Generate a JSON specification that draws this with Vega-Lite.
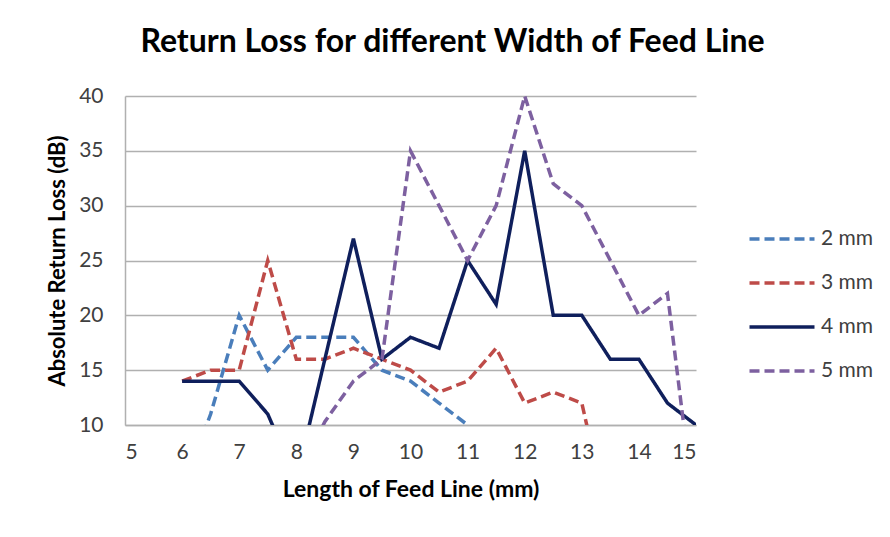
{
  "$schema": "https://vega.github.io/schema/vega-lite/v6.json",
  "width": 571,
  "height": 329,
  "autosize": {"type": "none"},
  "padding": {"left": 125, "top": 96, "right": 194, "bottom": 112},
  "background": "white",
  "title": {
    "text": "Return Loss for different Width of Feed Line",
    "font": "Lato",
    "fontSize": 32,
    "fontWeight": "bold",
    "color": "#000000",
    "anchor": "middle",
    "dx": 42,
    "baseline": "alphabetic",
    "offset": 1
  },
  "config": {
    "view": {"stroke": null},
    "font": "Lato"
  },
  "data": {
    "values": [
      {"len": 6, "rl": 4, "width": "2 mm"},
      {"len": 6.5, "rl": 11, "width": "2 mm"},
      {"len": 7, "rl": 20, "width": "2 mm"},
      {"len": 7.5, "rl": 15, "width": "2 mm"},
      {"len": 8, "rl": 18, "width": "2 mm"},
      {"len": 8.5, "rl": 18, "width": "2 mm"},
      {"len": 9, "rl": 18, "width": "2 mm"},
      {"len": 9.5, "rl": 15, "width": "2 mm"},
      {"len": 10, "rl": 14, "width": "2 mm"},
      {"len": 10.5, "rl": 12, "width": "2 mm"},
      {"len": 11, "rl": 10, "width": "2 mm"},
      {"len": 6, "rl": 14, "width": "3 mm"},
      {"len": 6.5, "rl": 15, "width": "3 mm"},
      {"len": 7, "rl": 15, "width": "3 mm"},
      {"len": 7.5, "rl": 25, "width": "3 mm"},
      {"len": 8, "rl": 16, "width": "3 mm"},
      {"len": 8.5, "rl": 16, "width": "3 mm"},
      {"len": 9, "rl": 17, "width": "3 mm"},
      {"len": 9.5, "rl": 16, "width": "3 mm"},
      {"len": 10, "rl": 15, "width": "3 mm"},
      {"len": 10.5, "rl": 13, "width": "3 mm"},
      {"len": 11, "rl": 14, "width": "3 mm"},
      {"len": 11.5, "rl": 17, "width": "3 mm"},
      {"len": 12, "rl": 12, "width": "3 mm"},
      {"len": 12.5, "rl": 13, "width": "3 mm"},
      {"len": 13, "rl": 12, "width": "3 mm"},
      {"len": 13.5, "rl": 0.5, "width": "3 mm"},
      {"len": 6, "rl": 14, "width": "4 mm"},
      {"len": 6.5, "rl": 14, "width": "4 mm"},
      {"len": 7, "rl": 14, "width": "4 mm"},
      {"len": 7.5, "rl": 11, "width": "4 mm"},
      {"len": 8, "rl": 5, "width": "4 mm"},
      {"len": 8.5, "rl": 16, "width": "4 mm"},
      {"len": 9, "rl": 27, "width": "4 mm"},
      {"len": 9.5, "rl": 16, "width": "4 mm"},
      {"len": 10, "rl": 18, "width": "4 mm"},
      {"len": 10.5, "rl": 17, "width": "4 mm"},
      {"len": 11, "rl": 25, "width": "4 mm"},
      {"len": 11.5, "rl": 21, "width": "4 mm"},
      {"len": 12, "rl": 35, "width": "4 mm"},
      {"len": 12.5, "rl": 20, "width": "4 mm"},
      {"len": 13, "rl": 20, "width": "4 mm"},
      {"len": 13.5, "rl": 16, "width": "4 mm"},
      {"len": 14, "rl": 16, "width": "4 mm"},
      {"len": 14.5, "rl": 12, "width": "4 mm"},
      {"len": 15, "rl": 10, "width": "4 mm"},
      {"len": 8, "rl": 5, "width": "5 mm"},
      {"len": 8.5, "rl": 10.3, "width": "5 mm"},
      {"len": 9, "rl": 14, "width": "5 mm"},
      {"len": 9.5, "rl": 16, "width": "5 mm"},
      {"len": 10, "rl": 35, "width": "5 mm"},
      {"len": 10.5, "rl": 30, "width": "5 mm"},
      {"len": 11, "rl": 25, "width": "5 mm"},
      {"len": 11.5, "rl": 30, "width": "5 mm"},
      {"len": 12, "rl": 40, "width": "5 mm"},
      {"len": 12.5, "rl": 32, "width": "5 mm"},
      {"len": 13, "rl": 30, "width": "5 mm"},
      {"len": 13.5, "rl": 25, "width": "5 mm"},
      {"len": 14, "rl": 20, "width": "5 mm"},
      {"len": 14.5, "rl": 22, "width": "5 mm"},
      {"len": 15, "rl": 1, "width": "5 mm"}
    ]
  },
  "mark": {"type": "line", "clip": true, "strokeWidth": 3.5, "strokeCap": "butt"},
  "encoding": {
    "x": {
      "field": "len",
      "type": "quantitative",
      "scale": {"domain": [5, 15], "nice": false, "zero": false},
      "axis": {
        "title": "Length of Feed Line (mm)",
        "values": [5, 6, 7, 8, 9, 10, 11, 12, 13, 14, 15],
        "grid": false,
        "ticks": false,
        "domainColor": "#b0b0b0",
        "domainWidth": 1.5,
        "labelFont": "Lato",
        "labelFontSize": 21,
        "labelColor": "#404040",
        "labelPadding": 16,
        "titleFont": "Lato",
        "titleFontSize": 23,
        "titleFontWeight": "bold",
        "titleColor": "#000000",
        "titlePadding": 16
      }
    },
    "y": {
      "field": "rl",
      "type": "quantitative",
      "scale": {"domain": [10, 40], "nice": false, "zero": false},
      "axis": {
        "title": "Absolute Return Loss (dB)",
        "values": [10, 15, 20, 25, 30, 35, 40],
        "grid": true,
        "gridColor": "#b0b0b0",
        "gridWidth": 1.5,
        "ticks": false,
        "domainColor": "#b0b0b0",
        "domainWidth": 1.5,
        "labelFont": "Lato",
        "labelFontSize": 21,
        "labelColor": "#404040",
        "labelPadding": 22,
        "titleFont": "Lato",
        "titleFontSize": 22,
        "titleFontWeight": "bold",
        "titleColor": "#000000",
        "titlePadding": 9
      }
    },
    "color": {
      "field": "width",
      "type": "nominal",
      "scale": {
        "domain": ["2 mm", "3 mm", "4 mm", "5 mm"],
        "range": ["#4a7ebb", "#be4b48", "#0f1f5c", "#7d60a0"]
      },
      "legend": {
        "title": null,
        "orient": "none",
        "legendX": 642,
        "legendY": 128,
        "symbolType": "M-2.5,0L2.5,0",
        "symbolSize": 676,
        "symbolStrokeWidth": 3.5,
        "labelFont": "Lato",
        "labelFontSize": 21,
        "labelColor": "#404040",
        "labelOffset": 24,
        "rowPadding": 19
      }
    },
    "strokeDash": {
      "field": "width",
      "type": "nominal",
      "scale": {
        "domain": ["2 mm", "3 mm", "4 mm", "5 mm"],
        "range": [[10, 5], [10, 5], [1, 0], [10, 5]]
      },
      "legend": null
    }
  }
}
